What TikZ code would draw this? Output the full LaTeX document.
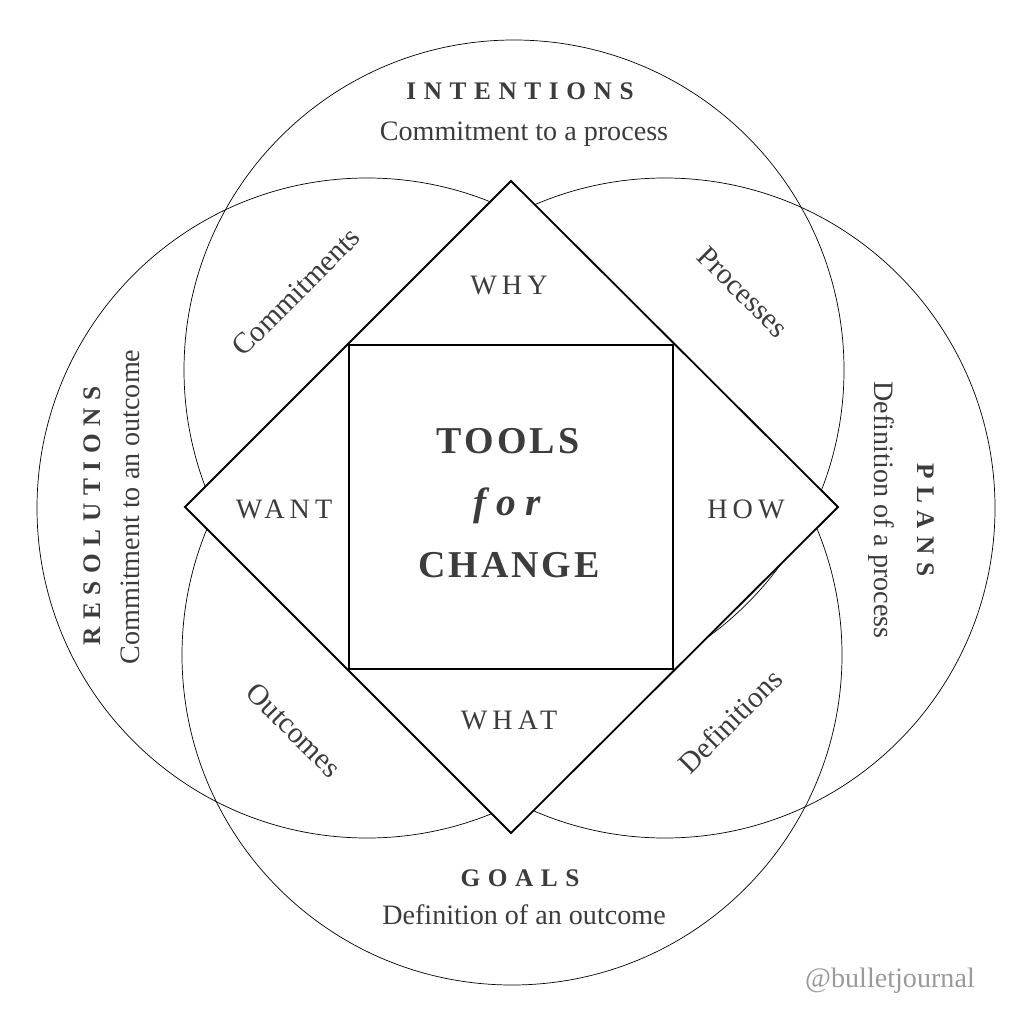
\documentclass[tikz,border=0pt]{standalone}
\usepackage{fontspec}
\setmainfont{Liberation Serif}
\newfontfamily\wideface[LetterSpace=30]{Liberation Serif}
\newfontfamily\midface[LetterSpace=18]{Liberation Serif}
\newfontfamily\tightface[LetterSpace=8]{Liberation Serif}
\newfontfamily\forface[LetterSpace=24]{Liberation Serif}
\usetikzlibrary{positioning}
\definecolor{inkgray}{HTML}{3C3C3C}
\definecolor{markgray}{HTML}{9A9A9A}
\tikzset{
  %% Outer rings
  ringline/.style={draw=black, line width=0.5pt},
  %% Diamond and inner square
  frameline/.style={draw=black, line width=1.3pt, fill=white, line join=miter},
  %% Ring titles and their sub lines
  ringtitle/.style={font=\wideface\bfseries\fontsize{18}{20}\selectfont,
    text=inkgray, inner sep=0pt, anchor=base},
  ringsub/.style={font=\fontsize{20}{23}\selectfont,
    text=inkgray, inner sep=0pt, anchor=base},
  %% WHY / HOW / WHAT / WANT
  asklbl/.style={font=\midface\fontsize{20}{22}\selectfont,
    text=inkgray, inner sep=0pt, anchor=base},
  %% Overlap words
  overlbl/.style={font=\fontsize{21}{24}\selectfont,
    text=inkgray, inner sep=0pt},
  %% Centre title
  centrelbl/.style={font=\tightface\bfseries\fontsize{27}{30}\selectfont,
    text=inkgray, inner sep=0pt, anchor=base},
}

\begin{document}
\begin{tikzpicture}[x=0.25mm, y=-0.25mm]

  \fill[white] (0,0) rectangle (1024,1024);
  \useasboundingbox (0,0) rectangle (1024,1024);

  %% Ring centres
  \coordinate (cint) at (514,370);
  \coordinate (cgoa) at (512,655);
  \coordinate (cres) at (367,508);
  \coordinate (cpla) at (665,508);

  \draw[ringline] (cint) circle (330);
  \draw[ringline] (cgoa) circle (330);
  \draw[ringline] (cres) circle (330);
  \draw[ringline] (cpla) circle (330);

  %% Diamond and square
  \coordinate (dtop)   at (511,181);
  \coordinate (dright) at (838,507);
  \coordinate (dbot)   at (511,833);
  \coordinate (dleft)  at (185,507);
  \draw[frameline] (dtop) -- (dright) -- (dbot) -- (dleft) -- cycle;

  \coordinate (sqtl) at (349,345);
  \coordinate (sqbr) at (673,669);
  \draw[frameline] (sqtl) rectangle (sqbr);

  %% Ring titles
  \node[ringtitle] (int)    at (520,100) {INTENTIONS};
  \node[ringsub]   (intsub) at (524,141) {Commitment to a process};
  \node[ringtitle] (goa)    at (520,886) {GOALS};
  \node[ringsub]   (goasub) at (524,924) {Definition of an outcome};
  \node[ringtitle, rotate=90]  (res)    at (100,516) {RESOLUTIONS};
  \node[ringsub,   rotate=90]  (ressub) at (139,507) {Commitment to an outcome};
  \node[ringtitle, rotate=-90] (pla)    at (917,520) {PLANS};
  \node[ringsub,   rotate=-90] (plasub) at (874,510) {Definition of a process};

  %% Questions
  \node[asklbl] (why)  at (509,295) {WHY};
  \node[asklbl] (what) at (509,729) {WHAT};
  \node[asklbl] (want) at (284,518) {WANT};
  \node[asklbl] (how)  at (746,518) {HOW};

  %% Overlaps
  \node[overlbl, rotate=45]  (commit) at (296,292) {Commitments};
  \node[overlbl, rotate=-45] (proc)   at (743,292) {Processes};
  \node[overlbl, rotate=-45] (outc)   at (294,730) {Outcomes};
  \node[overlbl, rotate=45]  (defn)   at (730,721) {Definitions};

  %% Centre
  \node[centrelbl] (tools)  at (508,453) {TOOLS};
  \node[centrelbl, font=\forface\bfseries\itshape\fontsize{28}{30}\selectfont]
    (for) at (507,515) {for};
  \node[centrelbl] (change) at (509,577) {CHANGE};

  \node[ringsub, text=markgray] (mark) at (890,987) {@bulletjournal};

\end{tikzpicture}
\end{document}
